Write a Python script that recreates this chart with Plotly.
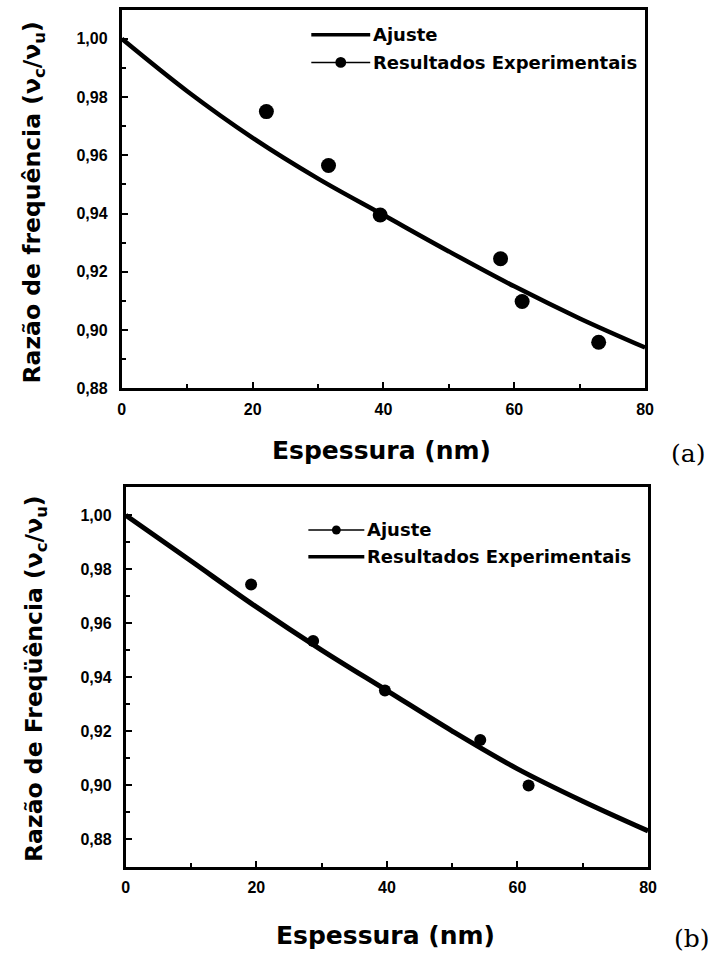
import plotly.graph_objects as go

W, H = 714, 961

# ---- data -------------------------------------------------------------
thickness_fit = [0, 10, 20, 30, 40, 50, 60, 70, 80]

fit_a = [1.000, 0.982, 0.966, 0.952, 0.9395, 0.927, 0.915, 0.904, 0.894]
exp_x_a = [22.1, 31.6, 39.5, 57.9, 61.2, 72.9]
exp_y_a = [0.975, 0.9565, 0.9395, 0.9245, 0.9098, 0.8958]

fit_b = [1.000, 0.983, 0.966, 0.950, 0.935, 0.920, 0.906, 0.894, 0.883]
exp_x_b = [19.2, 28.7, 39.7, 54.3, 61.7]
exp_y_b = [0.9743, 0.9534, 0.9350, 0.9167, 0.8998]

x_ticks = [0, 20, 40, 60, 80]

TICK_FONT = "Liberation Sans, Arial, sans-serif"
TITLE_FONT = "DejaVu Sans, Liberation Sans, sans-serif"
SERIF = "DejaVu Serif, Liberation Serif, serif"


def px(x):
    return x / W


def py(y):
    return 1 - y / H


fig = go.Figure()

# panel (a)
fig.add_trace(go.Scatter(x=thickness_fit, y=fit_a, mode="lines",
                         line=dict(color="black", width=4.5, shape="spline"),
                         xaxis="x", yaxis="y", showlegend=False))
fig.add_trace(go.Scatter(x=exp_x_a, y=exp_y_a, mode="markers",
                         marker=dict(color="black", size=15),
                         xaxis="x", yaxis="y", showlegend=False))

# panel (b)
fig.add_trace(go.Scatter(x=thickness_fit, y=fit_b, mode="lines",
                         line=dict(color="black", width=5, shape="spline"),
                         xaxis="x2", yaxis="y2", showlegend=False))
fig.add_trace(go.Scatter(x=exp_x_b, y=exp_y_b, mode="markers",
                         marker=dict(color="black", size=12),
                         xaxis="x2", yaxis="y2", showlegend=False))


def xaxis_style(domain, anchor):
    return dict(domain=domain, anchor=anchor, range=[0, 80],
                tickmode="array", tickvals=x_ticks,
                ticks="inside", ticklen=6, tickwidth=2, tickcolor="black",
                minor=dict(dtick=10, tick0=0, ticks="inside", ticklen=4,
                           tickwidth=2, tickcolor="black"),
                showline=True, linewidth=3, linecolor="black", mirror=True,
                showgrid=False, zeroline=False, ticklabelstandoff=4,
                tickfont=dict(family=TICK_FONT, size=16, color="black", weight="bold"))


def yaxis_style(domain, anchor, rng):
    return dict(domain=domain, anchor=anchor, range=rng,
                tick0=0.88, dtick=0.02, tickformat=".2f",
                ticks="inside", ticklen=6, tickwidth=2, tickcolor="black",
                minor=dict(dtick=0.01, tick0=0.88, ticks="inside", ticklen=4,
                           tickwidth=2, tickcolor="black"),
                showline=True, linewidth=3, linecolor="black", mirror=True,
                showgrid=False, zeroline=False, ticklabelstandoff=8,
                tickfont=dict(family=TICK_FONT, size=16, color="black", weight="bold"))


fig.update_layout(
    width=W, height=H,
    margin=dict(l=0, r=0, t=0, b=0),
    paper_bgcolor="white", plot_bgcolor="white",
    separators=",.",
    showlegend=False,
    xaxis=xaxis_style([px(120), px(653)], "y"),
    yaxis=yaxis_style([py(392), py(10)], "x", [0.88, 1.0099]),
    xaxis2=xaxis_style([px(124), px(656)], "y2"),
    yaxis2=yaxis_style([py(875), py(492)], "x2", [0.8697, 1.0103]),
)

annotations = []
shapes = []

# axis titles
for xc, yc, text in [
    (385, 455, "Espessura (nm)"),
    (389, 944, "Espessura (nm)"),
]:
    annotations.append(dict(x=px(xc), y=py(yc), xref="paper", yref="paper",
                            text="<b>%s</b>" % text, showarrow=False,
                            xanchor="center", yanchor="middle",
                            font=dict(family=TITLE_FONT, size=25, color="black")))

for xc, yc, text in [
    (30, 204, "Razão de frequência (ν<sub>c</sub>/ν<sub>u</sub>)"),
    (32, 685, "Razão de Freqüência (ν<sub>c</sub>/ν<sub>u</sub>)"),
]:
    annotations.append(dict(x=px(xc), y=py(yc), xref="paper", yref="paper",
                            text="<b>%s</b>" % text, showarrow=False,
                            textangle=-90, xanchor="center", yanchor="middle",
                            font=dict(family=TITLE_FONT, size=23.5, color="black")))

# panel letters
for xc, yc, text in [(697, 458, "(a)"), (701, 947, "(b)")]:
    annotations.append(dict(x=px(xc), y=py(yc), xref="paper", yref="paper",
                            text=text, showarrow=False,
                            xanchor="center", yanchor="middle",
                            font=dict(family=SERIF, size=25, color="black")))


def legend_entry(x0, x1, yc, text, line_w, marker_d=None):
    shapes.append(dict(type="line", xref="paper", yref="paper",
                       x0=px(x0), x1=px(x1), y0=py(yc), y1=py(yc),
                       line=dict(color="black", width=line_w)))
    if marker_d:
        cx = (x0 + x1) / 2
        r = marker_d / 2
        shapes.append(dict(type="circle", xref="paper", yref="paper",
                           x0=px(cx - r), x1=px(cx + r),
                           y0=py(yc + r), y1=py(yc - r),
                           fillcolor="black", line=dict(color="black", width=0)))
    annotations.append(dict(x=px(x1 + 1), y=py(yc), xref="paper", yref="paper",
                            text="<b>%s</b>" % text, showarrow=False,
                            xanchor="left", yanchor="middle",
                            font=dict(family=TITLE_FONT, size=18, color="black")))


legend_entry(313, 373, 35, "Ajuste", 3.5)
legend_entry(313, 373, 63, "Resultados Experimentais", 1.5, 11)
legend_entry(310, 367, 535, "Ajuste", 1.5, 9)
legend_entry(310, 367, 562, "Resultados Experimentais", 3.5)

fig.update_layout(annotations=annotations, shapes=shapes)

fig.write_html("out.html")
